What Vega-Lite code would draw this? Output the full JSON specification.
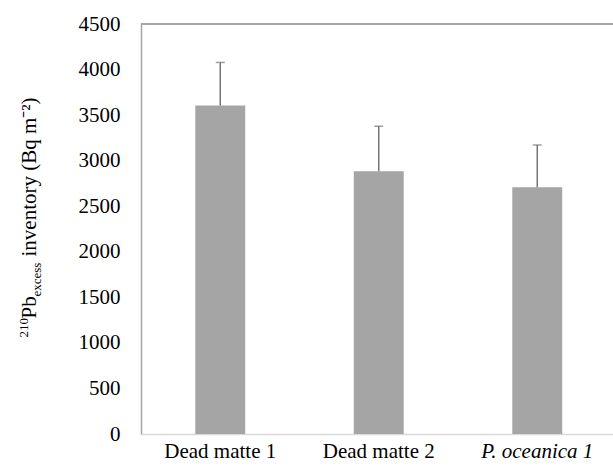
{
  "$schema": "https://vega.github.io/schema/vega-lite/v6.json",
  "autosize": {"type": "none"},
  "padding": {"left": 141, "top": 24, "right": 0, "bottom": 33},
  "width": 472,
  "height": 410,
  "config": {
    "view": {"stroke": null},
    "font": "Liberation Serif",
    "axis": {
      "labelFont": "Liberation Serif",
      "titleFont": "Liberation Serif",
      "labelColor": "#000000",
      "titleColor": "#000000",
      "titleFontWeight": "normal",
      "grid": false,
      "ticks": false
    }
  },
  "data": {
    "values": [
      {"site": "Dead matte 1", "value": 3605, "upper": 4078},
      {"site": "Dead matte 2", "value": 2885, "upper": 3378},
      {"site": "P. oceanica 1", "value": 2708, "upper": 3172}
    ]
  },
  "resolve": {"scale": {"y": "shared"}, "axis": {"y": "independent"}},
  "layer": [
    {
      "mark": {"type": "bar", "color": "#a5a5a5", "width": {"band": 0.315}},
      "encoding": {
        "x": {
          "field": "site", "type": "nominal", "sort": null,
          "scale": {"range": [0, 475.5], "paddingInner": 0, "paddingOuter": 0},
          "axis": {
            "title": null, "labelAngle": 0, "labelFontSize": 21, "labelPadding": 6,
            "labelFont": "Liberation Serif",
            "domainColor": "#d9d9d9", "domainWidth": 1.5,
            "labelFontStyle": {"condition": {"test": "datum.value == 'P. oceanica 1'", "value": "italic"}, "value": "normal"}
          }
        },
        "y": {
          "field": "value", "type": "quantitative",
          "scale": {"domain": [0, 4500], "nice": false},
          "axis": {
            "orient": "left",
            "values": [0, 500, 1000, 1500, 2000, 2500, 3000, 3500, 4000, 4500],
            "format": "d",
            "labelFont": "Liberation Serif",
            "labelFontSize": 21, "labelPadding": 21,
            "domainColor": "#a6a6a6", "domainWidth": 1.5,
            "title": "Pb", "titleFont": "Liberation Serif", "titleFontSize": 21, "titleAngle": 270,
            "titleAlign": "left", "titleBaseline": "alphabetic",
            "titleX": -106, "titleY": 294
          }
        }
      }
    },
    {
      "mark": {"type": "rule", "color": "#767676", "strokeWidth": 1.5},
      "encoding": {
        "x": {"field": "site", "type": "nominal", "sort": null},
        "y": {
          "field": "value", "type": "quantitative",
          "axis": {
            "orient": "left", "labels": false, "domain": false, "ticks": false,
            "title": "excess", "titleFont": "Liberation Serif", "titleFontSize": 13, "titleAngle": 270,
            "titleAlign": "left", "titleBaseline": "alphabetic",
            "titleX": -101, "titleY": 272
          }
        },
        "y2": {"field": "upper"}
      }
    },
    {
      "mark": {"type": "tick", "color": "#767676", "size": 9, "thickness": 1.5},
      "encoding": {
        "x": {"field": "site", "type": "nominal", "sort": null},
        "y": {
          "field": "upper", "type": "quantitative",
          "axis": {
            "orient": "left", "labels": false, "domain": false, "ticks": false,
            "title": "inventory (Bq m⁻²)", "titleFont": "Liberation Serif", "titleFontSize": 21, "titleAngle": 270,
            "titleAlign": "left", "titleBaseline": "alphabetic",
            "titleX": -106, "titleY": 232
          }
        }
      }
    },
    {
      "mark": {"type": "rule", "color": "#a6a6a6", "strokeWidth": 1.5},
      "encoding": {
        "y": {
          "datum": 4500, "type": "quantitative",
          "axis": {
            "orient": "left", "labels": false, "domain": false, "ticks": false,
            "title": "210", "titleFont": "Liberation Serif", "titleFontSize": 13, "titleAngle": 270,
            "titleAlign": "left", "titleBaseline": "alphabetic",
            "titleX": -114, "titleY": 313
          }
        }
      }
    }
  ]
}
